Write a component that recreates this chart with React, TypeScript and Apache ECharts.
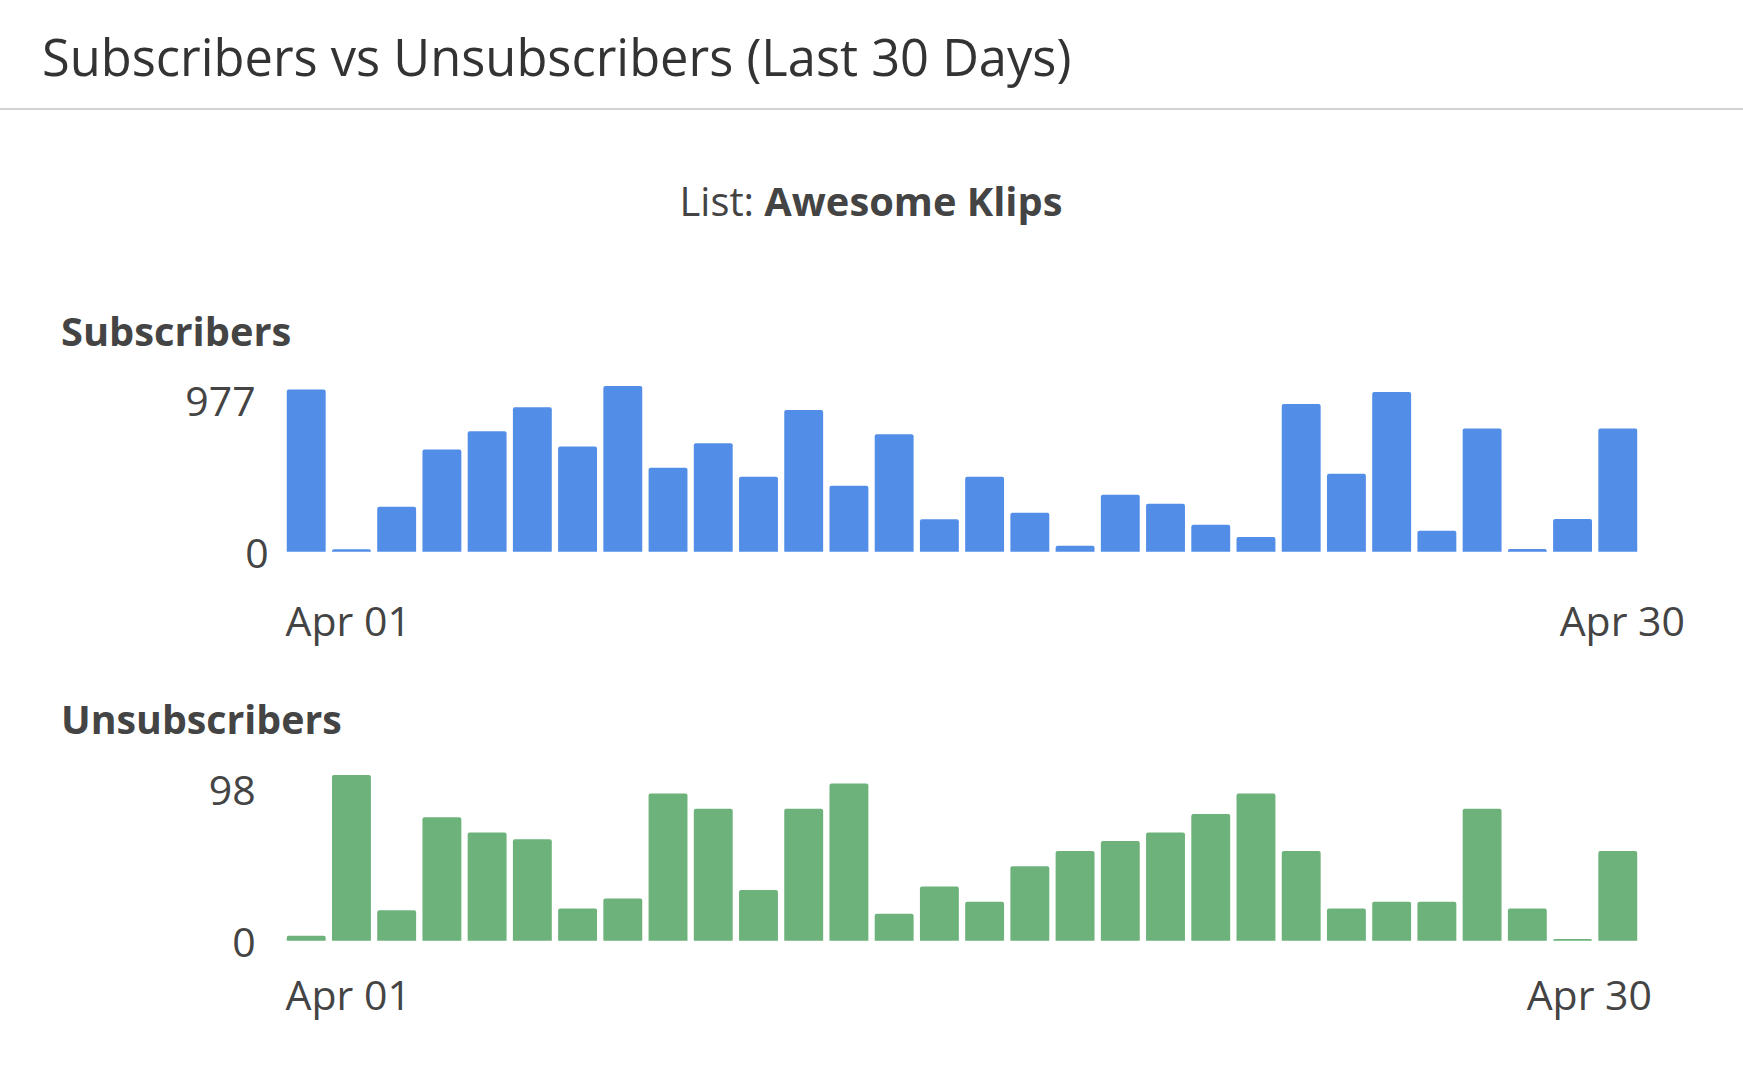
import { useEffect, useRef } from 'react'
import * as echarts from 'echarts'

const days = [
  'Apr 01', 'Apr 02', 'Apr 03', 'Apr 04', 'Apr 05', 'Apr 06', 'Apr 07', 'Apr 08', 'Apr 09', 'Apr 10',
  'Apr 11', 'Apr 12', 'Apr 13', 'Apr 14', 'Apr 15', 'Apr 16', 'Apr 17', 'Apr 18', 'Apr 19', 'Apr 20',
  'Apr 21', 'Apr 22', 'Apr 23', 'Apr 24', 'Apr 25', 'Apr 26', 'Apr 27', 'Apr 28', 'Apr 29', 'Apr 30',
]

const subscribers = [
  957, 14, 265, 603, 710, 851, 621, 977, 495, 639,
  442, 835, 389, 692, 192, 442, 230, 35, 336, 283,
  159, 86, 871, 460, 942, 124, 727, 16, 193, 727,
]

const unsubscribers = [
  3, 98, 18, 73, 64, 60, 19, 25, 87, 78,
  30, 78, 93, 16, 32, 23, 44, 53, 59, 64,
  75, 87, 53, 19, 23, 23, 78, 19, 1, 53,
]

const subscriberTicks = [0, 977]
const unsubscriberTicks = [0, 98]

const FONT = '"Open Sans", "Noto Sans", sans-serif'
const TEXT = '#444444'
const LABEL_SIZE = 41

function xAxisFor(gridIndex: number, margin: number, lastPad: number[]) {
  return {
    type: 'category',
    gridIndex,
    data: days,
    axisLine: { show: false },
    axisTick: { show: false },
    splitLine: { show: false },
    axisLabel: {
      interval: (i: number) => i === 0 || i === days.length - 1,
      margin,
      color: TEXT,
      fontSize: LABEL_SIZE,
      fontFamily: FONT,
      formatter: (v: string, i: number) => (i === 0 ? `{first|${v}}` : `{last|${v}}`),
      rich: {
        first: { padding: [0, 0, 0, 84], color: TEXT, fontSize: LABEL_SIZE, fontFamily: FONT },
        last: { padding: lastPad, color: TEXT, fontSize: LABEL_SIZE, fontFamily: FONT },
      },
    },
  }
}

function yAxisFor(gridIndex: number, ticks: number[], margin: number, topPad: number[]) {
  return {
    type: 'value',
    gridIndex,
    min: ticks[0],
    max: ticks[1],
    interval: ticks[1] - ticks[0],
    axisLine: { show: false },
    axisTick: { show: false },
    splitLine: { show: false },
    axisLabel: {
      margin,
      color: TEXT,
      fontSize: LABEL_SIZE,
      fontFamily: FONT,
      formatter: (v: number) => (v === ticks[1] ? `{top|${v}}` : `${v}`),
      rich: {
        top: { padding: topPad, color: TEXT, fontSize: LABEL_SIZE, fontFamily: FONT },
      },
    },
  }
}

export default function App() {
  const ref = useRef<HTMLDivElement>(null)

  useEffect(() => {
    document.body.style.margin = '0'
    if (!ref.current) return
    const chart = echarts.init(ref.current, null, { renderer: 'svg' })

    chart.setOption({
      animation: false,
      backgroundColor: '#ffffff',
      grid: [
        { left: 283.6, right: 102.6, top: 386, bottom: 528.3 },
        { left: 283.6, right: 102.6, top: 775, bottom: 139.3 },
      ],
      xAxis: [xAxisFor(0, 48, [0, 0, 0, 9]), xAxisFor(1, 33, [0, 57, 0, 0])],
      yAxis: [
        yAxisFor(0, subscriberTicks, 15, [28, 13, 0, 0]),
        yAxisFor(1, unsubscriberTicks, 28, [28, 0, 0, 0]),
      ],
      graphic: [
        {
          type: 'text',
          x: 42,
          y: 56,
          style: {
            text: 'Subscribers vs Unsubscribers (Last 30 Days)',
            fontSize: 50.6,
            fontFamily: FONT,
            fill: '#333333',
            verticalAlign: 'middle',
          },
        },
        {
          type: 'line',
          shape: { x1: 0, y1: 109, x2: 1743, y2: 109 },
          style: { stroke: '#d2d2d2', lineWidth: 2 },
        },
        {
          type: 'text',
          x: 871,
          y: 200,
          style: {
            text: '{n|List: }{b|Awesome Klips}',
            align: 'center',
            verticalAlign: 'middle',
            rich: {
              n: { fontSize: 39.8, fontFamily: FONT, fill: TEXT, color: TEXT },
              b: { fontSize: 39.8, fontFamily: FONT, fontWeight: 'bold', fill: TEXT, color: TEXT },
            },
          },
        },
        {
          type: 'text',
          x: 61,
          y: 330,
          style: {
            text: 'Subscribers',
            fontSize: 39.8,
            fontWeight: 'bold',
            fontFamily: FONT,
            fill: TEXT,
            verticalAlign: 'middle',
          },
        },
        {
          type: 'text',
          x: 61,
          y: 719,
          style: {
            text: 'Unsubscribers',
            fontSize: 39.3,
            fontWeight: 'bold',
            fontFamily: FONT,
            fill: TEXT,
            verticalAlign: 'middle',
          },
        },
      ],
      series: [
        {
          type: 'bar',
          xAxisIndex: 0,
          yAxisIndex: 0,
          data: subscribers,
          barCategoryGap: '14%',
          itemStyle: { color: '#528ee8', borderRadius: [2, 2, 0, 0] },
        },
        {
          type: 'bar',
          xAxisIndex: 1,
          yAxisIndex: 1,
          data: unsubscribers,
          barCategoryGap: '14%',
          itemStyle: { color: '#6db27a', borderRadius: [2, 2, 0, 0] },
        },
      ],
    })

    return () => {
      chart.dispose()
    }
  }, [])

  return <div ref={ref} style={{ width: 1743, height: 1080 }} />
}
